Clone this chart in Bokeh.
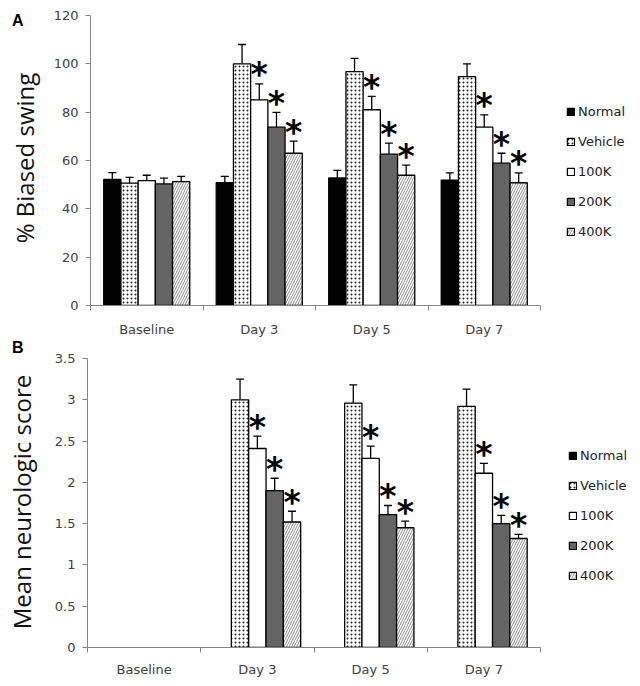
from bokeh.plotting import figure
from bokeh.models import (ColumnDataSource, Whisker, TeeHead, Legend, LegendItem,
                          FixedTicker, Range1d, Div)
from bokeh.transform import dodge
from bokeh.layouts import column, row
from bokeh.core.properties import value
from bokeh.embed import file_html
from bokeh.resources import INLINE

days = ["Baseline", "Day 3", "Day 5", "Day 7"]
groups = ["Normal", "Vehicle", "100K", "200K", "400K"]

# Panel A: % biased swing (mean, SEM)
swing_normal = [52.2, 50.8, 52.8, 51.9]
swing_vehicle = [50.6, 100.0, 96.8, 94.7]
swing_100k = [51.7, 85.1, 81.0, 73.8]
swing_200k = [50.3, 73.8, 62.6, 58.9]
swing_400k = [51.3, 63.0, 53.9, 50.8]
swing_normal_sem = [2.8, 2.6, 3.1, 3.0]
swing_vehicle_sem = [2.4, 8.0, 5.5, 5.3]
swing_100k_sem = [2.2, 6.6, 5.5, 5.1]
swing_200k_sem = [2.4, 6.1, 4.6, 4.1]
swing_400k_sem = [2.1, 5.0, 4.2, 4.1]

# Panel B: mean neurologic score (mean, SEM)
score_normal = [0, 0, 0, 0]
score_vehicle = [0, 3.0, 2.96, 2.92]
score_100k = [0, 2.41, 2.29, 2.11]
score_200k = [0, 1.90, 1.61, 1.50]
score_400k = [0, 1.52, 1.45, 1.32]
score_normal_sem = [0, 0, 0, 0]
score_vehicle_sem = [0, 0.25, 0.22, 0.21]
score_100k_sem = [0, 0.15, 0.15, 0.12]
score_200k_sem = [0, 0.15, 0.11, 0.10]
score_400k_sem = [0, 0.13, 0.08, 0.05]

# significance markers (*)
sig_normal = [0, 0, 0, 0]
sig_vehicle = [0, 0, 0, 0]
sig_100k = [0, 1, 1, 1]
sig_200k = [0, 1, 1, 1]
sig_400k = [0, 1, 1, 1]

swing_ticks = [0, 20, 40, 60, 80, 100, 120]
score_ticks = [0, 0.5, 1, 1.5, 2, 2.5, 3, 3.5]

STYLES = {
    "Normal": dict(fill_color="black"),
    "Vehicle": dict(fill_color="white", hatch_pattern=".", hatch_color="#222222",
                    hatch_scale=4, hatch_weight=0.6),
    "100K": dict(fill_color="white"),
    "200K": dict(fill_color="#646464"),
    "400K": dict(fill_color="white", hatch_pattern="/", hatch_color="#8c8c8c",
                 hatch_scale=5, hatch_weight=1),
}
BAR_W = 0.153
AXIS_COL = "#868686"
TICK_TXT = "#404040"
NaN = float("nan")
SIDE_W = 45      # width of the strip holding panel letter + y title
PAGE_W = 640


def side_strip(height, letter, letter_pos, ylabel, label_center):
    """Narrow HTML strip left of a panel: panel letter and rotated y-axis title."""
    html = (
        f'<div style="position:relative;width:{SIDE_W}px;height:{height}px;">'
        f'<span style="position:absolute;left:{letter_pos[0]}px;top:{letter_pos[1]}px;'
        f"font-family:'Liberation Sans';font-weight:bold;font-size:16px;"
        f'line-height:16px;color:#000000;">{letter}</span>'
        f'<span style="position:absolute;left:{label_center[0]}px;top:{label_center[1]}px;'
        f'transform:translate(-50%,-50%) rotate(-90deg);white-space:nowrap;'
        f"font-family:'Open Sans';font-size:24px;line-height:24px;"
        f'color:#111111;">{ylabel}</span></div>'
    )
    return Div(text=html, width=SIDE_W, height=height, margin=(0, 0, 0, 0))


def make_panel(means, sems, sigs, ticks, height, frame_left, top, bottom, axis_px,
               legend_loc, xlabel_standoff):
    left = frame_left - SIDE_W
    width = PAGE_W - SIDE_W
    frame_w = width - left
    x_end = len(days) * frame_w / axis_px   # frame extends right to hold legend
    p = figure(width=width, height=height, output_backend="svg", toolbar_location=None,
               x_range=Range1d(0, x_end), y_range=Range1d(ticks[0], ticks[-1]),
               min_border_left=left, min_border_right=0,
               min_border_top=top, min_border_bottom=bottom)
    p.outline_line_color = None
    p.xgrid.grid_line_color = None
    p.ygrid.grid_line_color = None

    items = []
    n = len(days)
    for gi, g in enumerate(groups):
        off = (gi - 2) * BAR_W
        m, s, sg = means[g], sems[g], sigs[g]
        src = ColumnDataSource(dict(
            xc=[i + 0.5 for i in range(n)],
            top=[m[i] if m[i] > 0 else NaN for i in range(n)],
            upper=[m[i] + s[i] if m[i] > 0 else NaN for i in range(n)],
        ))
        r = p.vbar(x=dodge("xc", off), top="top", bottom=0, width=BAR_W, source=src,
                   line_color="black", line_width=1.3, **STYLES[g])
        items.append(LegendItem(label=g, renderers=[r]))
        w = Whisker(base=dodge("xc", off), upper="upper", lower="top", source=src,
                    line_color="black", line_width=1.3,
                    upper_head=TeeHead(size=8, line_color="black", line_width=1.3),
                    lower_head=None)
        p.add_layout(w)
        sidx = [i for i in range(n) if sg[i] and m[i] > 0]
        ssrc = ColumnDataSource(dict(xc=[i + 0.5 for i in sidx],
                                     upper=[m[i] + s[i] for i in sidx],
                                     t=["*"] * len(sidx)))
        p.text(x=dodge("xc", off), y="upper", text="t", source=ssrc,
               text_font=value("DejaVu Sans"), text_font_style="bold",
               text_font_size="33px", text_align="center",
               text_baseline="alphabetic", y_offset=-9, text_color="black")

    xa = p.xaxis[0]
    xa.bounds = (0, n)
    xa.ticker = FixedTicker(ticks=[i + 0.5 for i in range(n)],
                            minor_ticks=list(range(n + 1)))
    xa.major_label_overrides = {i + 0.5: d for i, d in enumerate(days)}
    xa.major_tick_line_color = None
    xa.major_tick_out = 0
    xa.major_tick_in = 0
    xa.minor_tick_line_color = AXIS_COL
    xa.minor_tick_out = 5
    xa.minor_tick_in = 0
    xa.axis_line_color = AXIS_COL
    xa.major_label_text_font = "DejaVu Sans"
    xa.major_label_text_font_size = "13px"
    xa.major_label_text_color = TICK_TXT
    xa.major_label_standoff = xlabel_standoff

    ya = p.yaxis[0]
    ya.ticker = FixedTicker(ticks=ticks, minor_ticks=[])
    ya.major_label_overrides = {t: f"{t:g}" for t in ticks}
    ya.axis_line_color = AXIS_COL
    ya.major_tick_line_color = AXIS_COL
    ya.major_tick_out = 5
    ya.major_tick_in = 0
    ya.minor_tick_line_color = None
    ya.major_label_text_font = "DejaVu Sans"
    ya.major_label_text_font_size = "13px"
    ya.major_label_text_color = TICK_TXT
    ya.major_label_standoff = 7

    legend = Legend(items=items, location=legend_loc, orientation="vertical",
                    glyph_width=9, glyph_height=9, label_height=20, spacing=10,
                    label_standoff=3, padding=0, margin=0,
                    border_line_color=None, background_fill_alpha=0,
                    label_text_font="DejaVu Sans", label_text_font_size="13px",
                    label_text_color="#222222")
    p.add_layout(legend)
    return p


swing_means = dict(zip(groups, [swing_normal, swing_vehicle, swing_100k, swing_200k, swing_400k]))
swing_sems = dict(zip(groups, [swing_normal_sem, swing_vehicle_sem, swing_100k_sem,
                               swing_200k_sem, swing_400k_sem]))
score_means = dict(zip(groups, [score_normal, score_vehicle, score_100k, score_200k, score_400k]))
score_sems = dict(zip(groups, [score_normal_sem, score_vehicle_sem, score_100k_sem,
                               score_200k_sem, score_400k_sem]))
sigs = dict(zip(groups, [sig_normal, sig_vehicle, sig_100k, sig_200k, sig_400k]))

H_A, H_B = 340, 346
pA = make_panel(swing_means, swing_sems, sigs, swing_ticks, H_A, 90, 15, 35, 450,
                (476, 64), 11)
pB = make_panel(score_means, score_sems, sigs, score_ticks, H_B, 87, 18, 39, 453,
                (481, 62), 9)
sA = side_strip(H_A, "A", (12, 13), "% Biased swing", (25, 158))
sB = side_strip(H_B, "B", (12, 0), "Mean neurologic score", (22, 162))

layout = column(row(sA, pA, spacing=0), row(sB, pB, spacing=0), spacing=0)
open("out.html", "w").write(file_html(layout, INLINE))
